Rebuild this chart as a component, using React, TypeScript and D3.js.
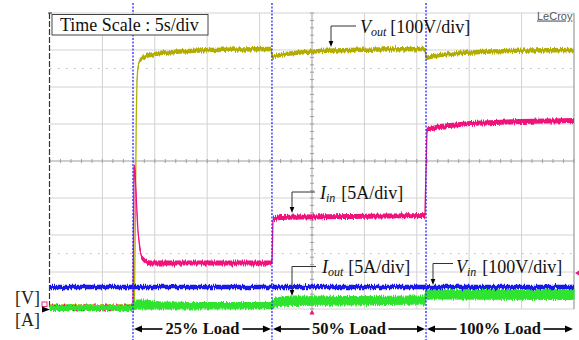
import React from "react";
import * as d3 from "d3";

// ---------- data (time in s, 5 s/div; values in screen divisions above bottom grid) ----------
const timeTicks = [0, 5, 10, 15, 20, 25, 30, 35, 40, 45, 50];
const divTicks = [0, 1, 2, 3, 4, 5, 6, 7, 8];
const loadSteps = [7.92, 21.18, 35.88, 50];
const loadLabels = ["25% Load", "50% Load", "100% Load"];

const voutTrace: [number, number][] = [
  [0, 0.068], [7.92, 0.068], [8.06, 0.243], [8.16, 2.946], [8.23, 5.108], [8.3, 6.189],
  [8.4, 6.568], [8.59, 6.73], [9.06, 6.824], [9.54, 6.865], [10.5, 6.919], [12.4, 6.959],
  [15.27, 7.0], [18.13, 7.014], [21.09, 7.027], [21.18, 6.811], [21.47, 6.838], [22.42, 6.892],
  [23.85, 6.932], [25.76, 6.973], [28.63, 7.0], [31.49, 7.014], [35.78, 7.027], [35.88, 6.784],
  [36.26, 6.811], [37.21, 6.865], [39.12, 6.919], [41.98, 6.959], [45.8, 6.986], [50, 7.0],
];

const iinTrace: [number, number][] = [
  [0, 0.034], [7.92, 0.034], [8.02, 3.892], [8.11, 3.703], [8.21, 3.162], [8.3, 2.595],
  [8.4, 2.081], [8.59, 1.595], [8.78, 1.378], [9.16, 1.27], [9.54, 1.243], [21.18, 1.243],
  [21.28, 2.432], [21.95, 2.473], [23.85, 2.486], [28.63, 2.5], [35.78, 2.527], [35.97, 4.838],
  [37.21, 4.932], [40.08, 5.014], [44.85, 5.068], [50, 5.095],
];

const vinTrace: [number, number][] = [
  [0, 0.595], [20, 0.595], [35.88, 0.595], [50, 0.595],
];

// [time, lower edge, upper edge] of the noisy output-current band
const ioutBand: [number, number, number][] = [
  [0, -0.041, 0.095], [7.92, -0.041, 0.095], [8.02, -0.02, 0.189], [8.3, 0, 0.243], [9.06, 0, 0.243],
  [10.5, 0, 0.189], [14.31, 0, 0.176], [21.09, 0.014, 0.176], [21.18, 0.027, 0.216],
  [21.47, 0.054, 0.297], [22.9, 0.095, 0.351], [28.63, 0.108, 0.338], [35.78, 0.135, 0.351],
  [35.88, 0.243, 0.514], [36.26, 0.27, 0.527], [50, 0.257, 0.527],
];

const W = 579;
const H = 340;
const SERIF = "'Liberation Serif', 'Times New Roman', serif";

function Arrow({ x1, x2, y }: { x1: number; x2: number; y: number }) {
  const dir = x2 > x1 ? 1 : -1;
  const hl = 8;
  return (
    <g>
      <line x1={x1} y1={y} x2={x2 - dir * hl} y2={y} stroke="#000" strokeWidth={1.6} />
      <polygon points={`${x2},${y} ${x2 - dir * hl},${y - 3.5} ${x2 - dir * hl},${y + 3.5}`} fill="#000" />
    </g>
  );
}

function Leader({ cx, cy, hx, tipY }: { cx: number; cy: number; hx: number; tipY: number }) {
  return (
    <g>
      <polyline points={`${hx},${cy} ${cx},${cy} ${cx},${tipY - 5}`} fill="none" stroke="#333" strokeWidth={1} />
      <polygon points={`${cx},${tipY} ${cx - 2.3},${tipY - 6} ${cx + 2.3},${tipY - 6}`} fill="#000" />
    </g>
  );
}

export default function App() {
  const x = d3.scaleLinear().domain([0, 50]).range([50, 574]);
  const y = d3.scaleLinear().domain([0, 8]).range([309, 13]);

  // a trace drawn as a band of given pixel thickness, so steep edges stay thin
  const band = (hw: number) =>
    d3
      .area<[number, number]>()
      .x((d) => x(d[0]))
      .y0((d) => y(d[1]) + hw)
      .y1((d) => y(d[1]) - hw);
  const line = d3
    .line<[number, number]>()
    .x((d) => x(d[0]))
    .y((d) => y(d[1]));
  const area = d3
    .area<[number, number, number]>()
    .x((d) => x(d[0]))
    .y0((d) => y(d[1]))
    .y1((d) => y(d[2]));

  const minorX = d3.range(0, 50.01, 1);
  const minorY = d3.range(0, 8.01, 0.2);

  const xs = loadSteps.map((t) => x(t));
  const labelWidths = [74, 73, 81];

  const traces = [
    { data: voutTrace, color: "#b3ad00", hw: 2.2 },
    { data: iinTrace, color: "#f0137c", hw: 2.6 },
  ];

  return (
    <div style={{ position: "absolute", left: 0, top: 0 }}>
      <svg width={W} height={H} style={{ display: "block", background: "#fff" }}>
        <defs>
          <filter id="jit" filterUnits="userSpaceOnUse" x={0} y={0} width={W} height={H} colorInterpolationFilters="sRGB">
            <feTurbulence type="fractalNoise" baseFrequency="0.9 0.05" numOctaves={1} seed={4} result="t" />
            <feColorMatrix in="t" type="matrix" values="1 0 0 0 0  0 0 0 0 0.5  0 0 0 0 0.5  0 0 0 0 1" result="m" />
            <feDisplacementMap in="SourceGraphic" in2="m" scale={6} xChannelSelector="G" yChannelSelector="R" />
          </filter>
          <filter id="jit2" filterUnits="userSpaceOnUse" x={0} y={0} width={W} height={H} colorInterpolationFilters="sRGB">
            <feTurbulence type="fractalNoise" baseFrequency="1.1 0.06" numOctaves={1} seed={9} result="t" />
            <feColorMatrix in="t" type="matrix" values="1 0 0 0 0  0 0 0 0 0.5  0 0 0 0 0.5  0 0 0 0 1" result="m" />
            <feDisplacementMap in="SourceGraphic" in2="m" scale={6} xChannelSelector="G" yChannelSelector="R" />
          </filter>
        </defs>

        {/* grid */}
        <g>
          {timeTicks.slice(1, -1).map((t) => (
            <line key={"gx" + t} x1={x(t)} x2={x(t)} y1={y(8)} y2={y(0)} stroke="#d2d2d2" strokeWidth={1} />
          ))}
          {divTicks.slice(1, -1).map((d) => (
            <line key={"gy" + d} x1={x(0)} x2={x(50)} y1={y(d)} y2={y(d)} stroke="#d2d2d2" strokeWidth={1} />
          ))}
          {[6.5, 1.5].map((d) => (
            <line key={"dot" + d} x1={x(0)} x2={x(50)} y1={y(d)} y2={y(d)} stroke="#bbb" strokeWidth={1} strokeDasharray="1.5 6.5" />
          ))}
          <line x1={x(0)} x2={x(50)} y1={y(8)} y2={y(8)} stroke="#d2d2d2" />
          <line x1={x(0)} x2={x(50)} y1={y(0)} y2={y(0)} stroke="#d2d2d2" />
          <line x1={x(0)} x2={x(50)} y1={y(4)} y2={y(4)} stroke="#b5b5b5" />
          <line x1={x(25)} x2={x(25)} y1={y(8)} y2={y(0)} stroke="#b5b5b5" />
          {minorX.map((t) => (
            <line key={"mx" + t} x1={x(t)} x2={x(t)} y1={y(4) - 2} y2={y(4) + 2} stroke="#a0a0a0" />
          ))}
          {minorY.map((d) => (
            <line key={"my" + d} x1={x(25) - 2} x2={x(25) + 2} y1={y(d)} y2={y(d)} stroke="#a0a0a0" />
          ))}
          <line x1={x(50)} x2={x(50)} y1={y(8)} y2={y(0)} stroke="#9a9a9a" strokeWidth={1.2} />
          <line x1={x(0) - 0.5} x2={x(0) - 0.5} y1={y(8)} y2={y(0)} stroke="#333" strokeWidth={1.2} strokeDasharray="6 2" />
          <line x1={x(0) - 2} x2={x(0) + 2} y1={y(8)} y2={y(8)} stroke="#333" />
        </g>

        {/* traces */}
        {traces.map((tr, i) => (
          <g key={"tr" + i} filter="url(#jit)">
            <path d={band(tr.hw)(tr.data) || ""} fill={tr.color} />
            <path d={line(tr.data) || ""} fill="none" stroke={tr.color} strokeWidth={1.3} />
          </g>
        ))}
        <path d={area(ioutBand) || ""} fill="#2fe42f" stroke="#2fe42f" strokeWidth={1} filter="url(#jit2)" />
        <path d={band(2.2)(vinTrace) || ""} fill="#1818e8" filter="url(#jit)" />

        {/* load-step markers */}
        {xs.slice(0, 3).map((px, i) => (
          <line key={"ls" + i} x1={px} x2={px} y1={3} y2={H} stroke="#2a2aff" strokeWidth={1.3} strokeDasharray="2 1.5" />
        ))}

        {/* time scale box */}
        <rect x={52} y={14.5} width={156} height={20.5} fill="#fff" stroke="#444" strokeWidth={1} />
        <text x={60} y={31} fontFamily={SERIF} fontSize={18} fill="#111">Time Scale : 5s/div</text>

        <text x={537} y={19.5} fontFamily="'Liberation Sans', Arial, sans-serif" fontSize={11} fill="#555" textDecoration="underline">LeCroy</text>

        {/* trace labels */}
        <Leader cx={331} cy={26} hx={356} tipY={47} />
        <text x={360} y={33} fontFamily={SERIF} fontSize={18} fill="#111">
          <tspan fontStyle="italic">V</tspan>
          <tspan fontStyle="italic" fontSize={12} dy={3}>out</tspan>
          <tspan dy={-3} dx={4}>[100V/div]</tspan>
        </text>

        <Leader cx={292} cy={192} hx={315} tipY={213} />
        <text x={320} y={199} fontFamily={SERIF} fontSize={18} fill="#111">
          <tspan fontStyle="italic">I</tspan>
          <tspan fontStyle="italic" fontSize={12} dy={3}>in</tspan>
          <tspan dy={-3} dx={6}>[5A/div]</tspan>
        </text>

        <Leader cx={292} cy={266.5} hx={316} tipY={296} />
        <text x={322} y={273} fontFamily={SERIF} fontSize={18} fill="#111">
          <tspan fontStyle="italic">I</tspan>
          <tspan fontStyle="italic" fontSize={12} dy={3}>out</tspan>
          <tspan dy={-3} dx={5}>[5A/div]</tspan>
        </text>

        <Leader cx={433} cy={263.5} hx={453} tipY={285} />
        <text x={456} y={272.5} fontFamily={SERIF} fontSize={18} fill="#111">
          <tspan fontStyle="italic">V</tspan>
          <tspan fontStyle="italic" fontSize={12} dy={3}>in</tspan>
          <tspan dy={-3} dx={6}>[100V/div]</tspan>
        </text>

        {/* axis unit labels and markers */}
        <text x={15} y={304} fontFamily={SERIF} fontSize={18} fill="#222">[V]</text>
        <text x={15} y={326} fontFamily={SERIF} fontSize={18} fill="#222">[A]</text>
        <rect x={42} y={302} width={5} height={4.5} fill="none" stroke="#e0307a" strokeWidth={1} />
        <polygon points="42,306.5 42,312.5 50,309.5" fill="#000" />
        <polygon points={`${x(25) - 2.5},314.5 ${x(25) + 2.5},314.5 ${x(25)},309.5`} fill="#f0137c" />
        <polygon points="579,270.5 579,275.5 575,273" fill="#f0137c" />

        {/* load labels */}
        {loadLabels.map((lab, i) => {
          const a = xs[i];
          const b = xs[i + 1];
          const c = (a + b) / 2;
          const hw = labelWidths[i] / 2;
          return (
            <g key={lab}>
              <Arrow x1={c - hw - 3} x2={a + 1} y={329} />
              <Arrow x1={c + hw + 3} x2={b - 1} y={329} />
              <text x={c} y={334} textAnchor="middle" fontFamily={SERIF} fontWeight="bold" fontSize={16.5} fill="#111">{lab}</text>
            </g>
          );
        })}
      </svg>
    </div>
  );
}
